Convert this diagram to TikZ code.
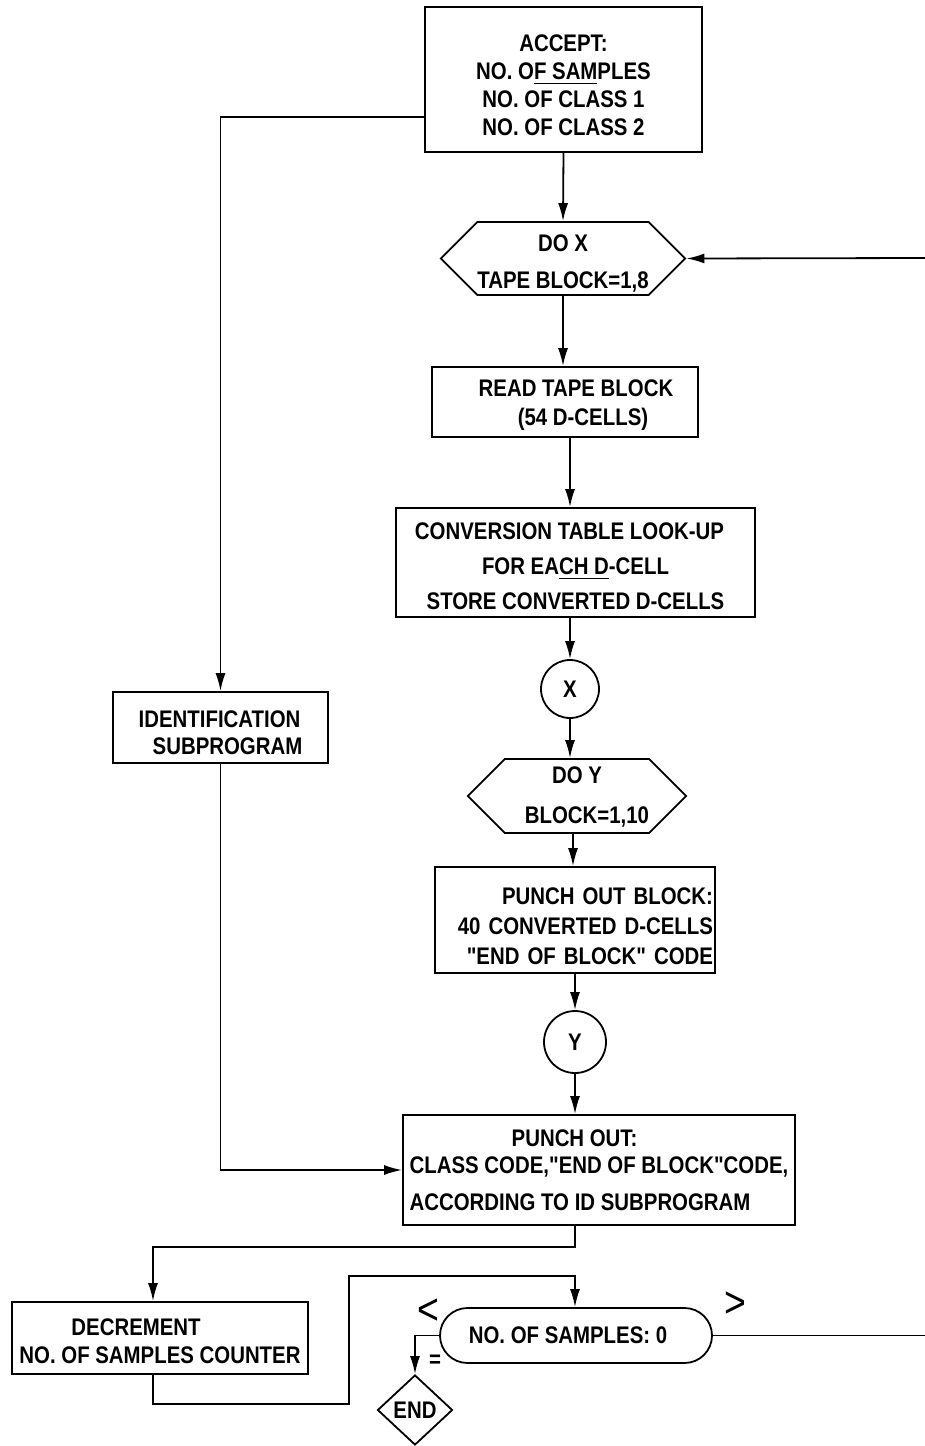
\documentclass[tikz,border=0pt]{standalone}
\usepackage{fontspec}
\setmainfont{Liberation Sans}[FakeStretch=0.85,Ligatures=TeXOff]
\usetikzlibrary{arrows.meta,shapes.misc,shapes.geometric,shapes.symbols,calc}
\newcommand\lift[1]{\rule{0pt}{#1}}
\begin{document}
\begin{tikzpicture}[x=0.5pt,y=-0.5pt,line width=0.9pt,
  every node/.style={font=\fontsize{12}{14}\selectfont\bfseries},
  box/.style={draw,rectangle,inner sep=0pt,align=center},
  hexa/.style={draw,signal,signal to=east and west,signal pointer angle=90,inner sep=0pt,align=center},
  conn/.style={draw,circle,inner sep=0pt},
  arr/.style={-{Latex[length=9pt,width=5pt]}},
  sym/.style={font=\fontsize{22}{22}\selectfont}]
\useasboundingbox (0,0) rectangle (925,1446);

% columns and bends
\coordinate (colA) at (570,0);
\coordinate (colB) at (573,0);
\coordinate (colD) at (153,0);
\coordinate (a1) at (0,117);
\coordinate (b1) at (575,1247);
\coordinate (b2) at (349,1404);
\coordinate (b3) at (575,1276);
\coordinate (rx) at (925,258);
\coordinate (rx2) at (925,1335.5);

% nodes
\node[box,minimum width=138.5pt,minimum height=72.5pt] (accept) at (563.5,79.5)
  {\lift{14.6pt}ACCEPT:\\NO. O\underline{F SAM}PLES\\NO. OF CLASS 1\\NO. OF CLASS 2};
\node[hexa,minimum width=120pt,minimum height=36.5pt] (dox) at (563,258.5)
  {\lift{13.6pt}DO X\\[4.5pt]TAPE BLOCK=1,8};
\node[box,minimum width=133pt,minimum height=35pt] (read) at (565,402)
  {\lift{11.6pt}\hspace*{11pt}READ TAPE BLOCK\\[0.5pt]\hspace*{18pt}(54 D-CELLS)};
\node[box,minimum width=179.5pt,minimum height=54.5pt] (conv) at (575.5,562.5)
  {\lift{12.6pt}CONVERSION TABLE LOOK-UP\hspace*{6pt}\\[3.5pt]FOR EA\underline{CH D}-CELL\\[3.5pt]STORE CONVERTED D-CELLS};
\node[conn,minimum size=29pt] (cx) at (570,689) {X};
\node[hexa,minimum width=108pt,minimum height=37pt] (doy) at (577,796)
  {\lift{9.6pt}DO Y\\[6pt]\hspace*{10pt}BLOCK=1,10};
\node[box,minimum width=140pt,minimum height=53pt,text width=138pt,inner xsep=1pt,align=right] (pob) at (575,920)
  {\lift{15pt}PUNCH OUT BLOCK:\\[1pt]40 CONVERTED D-CELLS\\[1pt]"END OF BLOCK" CODE\hspace*{2pt}};
\node[conn,minimum size=31pt] (cy) at (575,1042) {Y};
\node[box,minimum width=196pt,minimum height=55pt,align=left] (po) at (599,1170)
  {\hspace*{51pt}PUNCH OUT:\\[-0.5pt]CLASS CODE,"END OF BLOCK"CODE,\\[4.5pt]ACCORDING TO ID SUBPROGRAM};
\node[box,minimum width=107.5pt,minimum height=35.5pt,align=left] (ident) at (220.5,727.5)
  {\lift{13.6pt}IDENTIFICATION\\[-0.5pt]\hspace*{7pt}SUBPROGRAM};
\node[box,minimum width=148pt,minimum height=36pt,align=left] (decr) at (160,1338)
  {\lift{11.6pt}\hspace*{26pt}DECREMENT\\NO. OF SAMPLES COUNTER};
\node[draw,rounded rectangle,minimum width=136pt,minimum height=27.5pt,inner sep=0pt] (test) at (576,1335.5)
  {NO. OF SAMPLES: 0\hspace*{8pt}};
\node[draw,diamond,minimum width=37.5pt,minimum height=35pt,inner sep=0pt] (end) at (415,1410) {END};
\node[sym] (lt) at (428,1312) {<};
\node[sym] (gt) at (735,1305) {>};
\node (eq) at (435,1361) {=};

% connectors
\draw[arr] (accept.south) -- (dox.north);
\draw[arr] (dox.south) -- (dox.south |- read.north);
\draw[arr] (read.south -| colA) -- (conv.north -| colA);
\draw[arr] (conv.south -| cx) -- (cx.north);
\draw[arr] (cx.south) -- (cx.south |- doy.north);
\draw[arr] (doy.south -| colB) -- (pob.north -| colB);
\draw[arr] (pob.south -| cy) -- (cy.north);
\draw[arr] (cy.south) -- (cy.south |- po.north);
\draw[arr] (rx) -- (dox.east);
\draw[arr] (accept.west |- a1) -| (ident.north);
\draw[arr] (ident.south) |- (po.west);
\draw[arr] (po.south -| b1) -- (b1) -| (decr.north -| colD);
\draw[arr] (decr.south -| colD) |- (b2) |- (b3) -- (test.north -| b3);
\draw[arr] (test.west) -| (end.north);
\draw (test.east) -- (rx2);
\end{tikzpicture}
\end{document}
